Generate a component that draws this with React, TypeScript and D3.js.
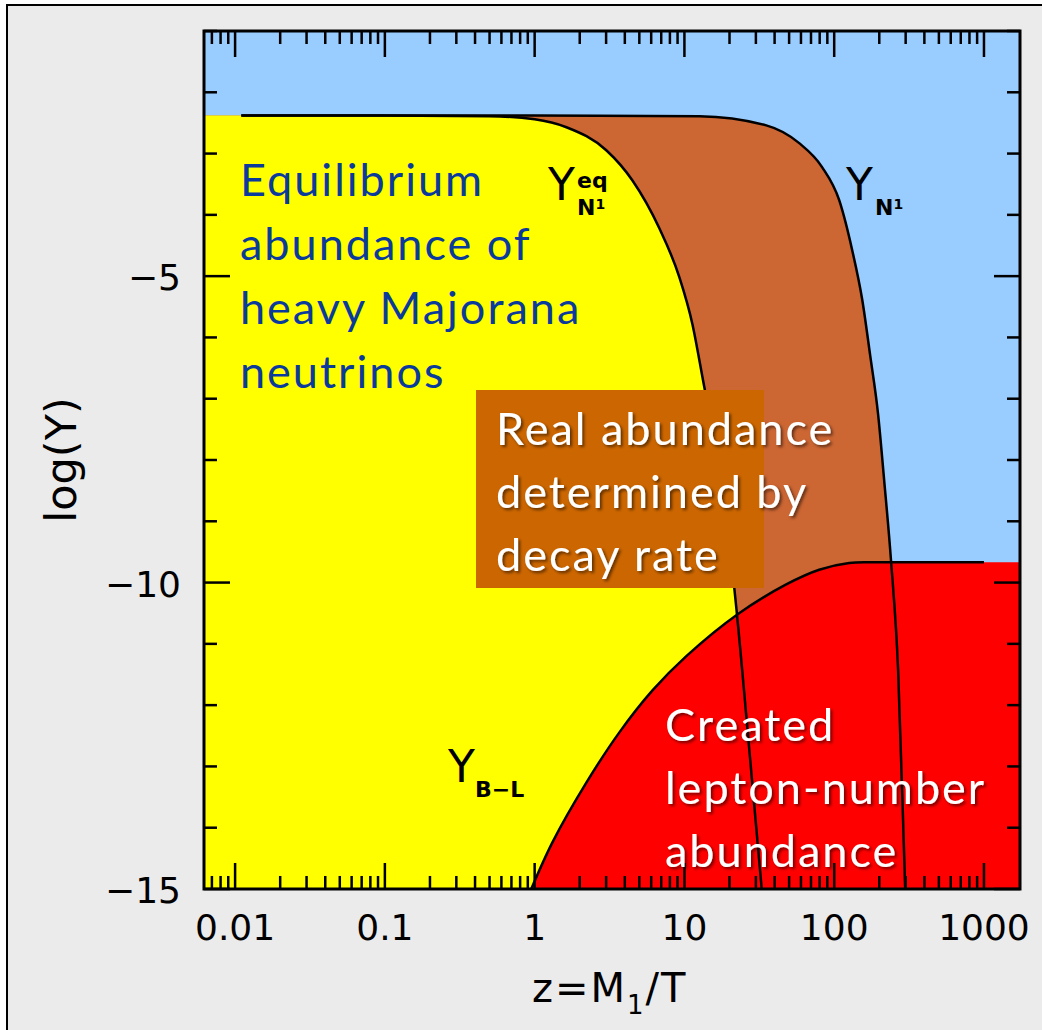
import React from "react";
import * as d3 from "d3";

// ---------- data ----------
// z = M1/T values and log10(Y) values
const yeqZ = [0.011, 0.1, 0.5, 1.0, 1.63, 3.02, 4.5, 6.8, 9.26, 11.3, 13.2, 17.1, 21.5, 27.1, 32.6, 34];
const yeqLog = [-2.38, -2.38, -2.39, -2.44, -2.57, -2.95, -3.44, -4.22, -5.02, -5.78, -6.65, -8.2, -10.08, -12.72, -14.92, -15.4];

const yn1Z = [0.011, 1, 12.6, 35.2, 58.4, 83, 108, 132, 154, 173.8, 196.5, 215.4, 239.9, 267.1, 297.4, 312];
const yn1Log = [-2.38, -2.38, -2.39, -2.54, -2.83, -3.22, -3.76, -4.58, -5.39, -6.29, -7.26, -8.32, -9.66, -11.42, -14.95, -16.5];

const yblZ = [0.93, 1.32, 2.22, 3.69, 6.12, 10.3, 22.56, 47.86, 79.4, 126, 200, 1000];
const yblLog = [-15.05, -14.23, -13.26, -12.44, -11.76, -11.2, -10.52, -10.03, -9.79, -9.68, -9.67, -9.67];

const xTickValues = [0.01, 0.1, 1, 10, 100, 1000];
const xTickLabels = ["0.01", "0.1", "1", "10", "100", "1000"];
const yTickValues = [-5, -10, -15];
const yTickLabels = ["\u22125", "\u221210", "\u221215"];

const xDomain = [0.0062, 1740];
const yDomain = [-15, -1];

const blueLines = ["Equilibrium", "abundance of", "heavy Majorana", "neutrinos"];
const boxLines = ["Real abundance", "determined by", "decay rate"];
const redLines = ["Created", "lepton-number", "abundance"];

// ---------- layout ----------
const W = 1042;
const H = 1030;
const L = 204, R = 1020, T = 31, B = 889;

const COLORS = {
  bg: "#ebebeb",
  blue: "#99ccff",
  yellow: "#ffff00",
  orange: "#cc6633",
  red: "#ff0000",
  box: "#cc6600",
  textBlue: "#0a3a9c",
};

export default function App() {
  const x = d3.scaleLog().domain(xDomain).range([L, R]);
  const y = d3.scaleLinear().domain(yDomain).range([B, T]);

  const toPts = (zs: number[], ls: number[]) => zs.map((z, i) => [z, ls[i]] as [number, number]);
  const yeq = toPts(yeqZ, yeqLog);
  const yn1 = toPts(yn1Z, yn1Log);
  const ybl = toPts(yblZ, yblLog);

  const line = d3
    .line<[number, number]>()
    .x((d) => x(d[0]))
    .y((d) => y(d[1]))
    .curve(d3.curveMonotoneX);
  const area = d3
    .area<[number, number]>()
    .x((d) => x(d[0]))
    .y0(B + 40)
    .y1((d) => y(d[1]))
    .curve(d3.curveMonotoneX);
  const smoothLine = line.curve(d3.curveCatmullRom.alpha(0.5));
  const smoothArea = area.curve(d3.curveCatmullRom.alpha(0.5));
  line.curve(d3.curveMonotoneX);
  area.curve(d3.curveMonotoneX);

  const yeqFill: [number, number][] = [[xDomain[0], yeqLog[0]], ...yeq];
  const yn1Fill: [number, number][] = [[xDomain[0], yn1Log[0]], ...yn1];
  const yblFill: [number, number][] = [...ybl, [xDomain[1] * 1.05, yblLog[yblLog.length - 1]]];

  const yeqFillPath = area(yeqFill) || "";
  const yn1FillPath = area(yn1Fill) || "";
  const yeqPath = line(yeq) || "";
  const yn1Path = line(yn1) || "";

  const blArea = d3
    .area<[number, number]>()
    .x((d) => x(d[0]))
    .y0(B + 40)
    .y1((d) => y(d[1]))
    .curve(d3.curveCatmullRom.alpha(0.5));
  const blLine = d3
    .line<[number, number]>()
    .x((d) => x(d[0]))
    .y((d) => y(d[1]))
    .curve(d3.curveCatmullRom.alpha(0.5));
  void smoothLine;
  void smoothArea;

  // minor ticks
  const xMinor: number[] = [];
  for (let e = -3; e <= 3; e++) {
    for (let m = 2; m <= 9; m++) {
      const v = m * Math.pow(10, e);
      if (v > xDomain[0] && v < xDomain[1]) xMinor.push(v);
    }
  }
  const yMinor: number[] = d3.range(-14, 0).filter((v) => v % 5 !== 0);

  const tickW = 2.5;
  const major = 26;
  const minor = 13;

  const bodyFont = "Lato, 'Open Sans', sans-serif";
  const axisFont = "'DejaVu Sans', sans-serif";

  return (
    <svg
      width={W}
      height={H}
      style={{ position: "absolute", left: 0, top: 0, display: "block" }}
    >
      <defs>
        <clipPath id="plotclip">
          <rect x={L} y={T} width={R - L} height={B - T} />
        </clipPath>
        <filter id="shadow" x="-10%" y="-20%" width="130%" height="160%">
          <feDropShadow dx="2" dy="2" stdDeviation="1.5" floodColor="#000" floodOpacity="0.55" />
        </filter>
      </defs>
      <rect x={0} y={0} width={W} height={H} fill="#ffffff" />
      <rect x={7} y={5} width={W + 20} height={H + 20} fill={COLORS.bg} stroke="#000" strokeWidth={2} />

      <g clipPath="url(#plotclip)">
        <rect x={L} y={T} width={R - L} height={B - T} fill={COLORS.blue} />
        <path d={yn1FillPath} fill={COLORS.orange} />
        <path d={yeqFillPath} fill={COLORS.yellow} />
        <path d={blArea(yblFill) || ""} fill={COLORS.red} />
        <path d={yeqPath} fill="none" stroke="#000" strokeWidth={2.5} />
        <path d={yn1Path} fill="none" stroke="#000" strokeWidth={2.5} />
        <path d={blLine(ybl) || ""} fill="none" stroke="#000" strokeWidth={2.5} />
      </g>

      {/* ticks */}
      <g stroke="#000" strokeWidth={tickW}>
        {xTickValues.map((v) => (
          <g key={"xM" + v}>
            <line x1={x(v)} x2={x(v)} y1={B} y2={B - major} />
            <line x1={x(v)} x2={x(v)} y1={T} y2={T + major} />
          </g>
        ))}
        {xMinor.map((v) => (
          <g key={"xm" + v}>
            <line x1={x(v)} x2={x(v)} y1={B} y2={B - minor} />
            <line x1={x(v)} x2={x(v)} y1={T} y2={T + minor} />
          </g>
        ))}
        {yTickValues.map((v) => (
          <g key={"yM" + v}>
            <line x1={L} x2={L + major} y1={y(v)} y2={y(v)} />
            <line x1={R} x2={R - major} y1={y(v)} y2={y(v)} />
          </g>
        ))}
        {yMinor.map((v) => (
          <g key={"ym" + v}>
            <line x1={L} x2={L + minor} y1={y(v)} y2={y(v)} />
            <line x1={R} x2={R - minor} y1={y(v)} y2={y(v)} />
          </g>
        ))}
      </g>
      <rect x={L} y={T} width={R - L} height={B - T} fill="none" stroke="#000" strokeWidth={3} />

      {/* tick labels */}
      <g fontFamily={axisFont} fontSize={36} fill="#000">
        {xTickValues.map((v, i) => (
          <text key={"xl" + v} x={x(v)} y={940} textAnchor="middle">
            {xTickLabels[i]}
          </text>
        ))}
        {yTickValues.map((v, i) => (
          <text key={"yl" + v} x={181} y={y(v) + 14} textAnchor="end">
            {yTickLabels[i]}
          </text>
        ))}
      </g>

      {/* axis titles */}
      <text
        x={0}
        y={0}
        transform="translate(76,460) rotate(-90)"
        fontFamily={axisFont}
        fontSize={43}
        textAnchor="middle"
      >
        log(Y)
      </text>
      <text x={532} y={1002} fontFamily={axisFont} fontSize={40} letterSpacing={2}>
        z=M
        <tspan fontSize={26} dy={12}>1</tspan>
        <tspan dy={-12}>/T</tspan>
      </text>

      {/* curve labels */}
      <g fontFamily={axisFont} fill="#000">
        <text x={548} y={200} fontSize={44}>Y</text>
        <text x={577} y={188} fontSize={22} fontWeight="bold">eq</text>
        <text x={577} y={215} fontSize={22} fontWeight="bold">
          N<tspan fontSize={14} dy={-6}>1</tspan>
        </text>

        <text x={846} y={200} fontSize={44}>Y</text>
        <text x={875} y={215} fontSize={22} fontWeight="bold">
          N<tspan fontSize={14} dy={-6}>1</tspan>
        </text>

        <text x={448} y={782} fontSize={44}>Y</text>
        <text x={475} y={797} fontSize={22} fontWeight="bold">{"B\u2212L"}</text>
      </g>

      {/* annotation texts */}
      <g fontFamily={bodyFont} fontSize={45} letterSpacing={2} fill={COLORS.textBlue}>
        {blueLines.map((s, i) => (
          <text key={s} x={240} y={196 + i * 64}>
            {s}
          </text>
        ))}
      </g>

      <rect x={476} y={390} width={288} height={198} fill={COLORS.box} />
      <g fontFamily={bodyFont} fontSize={45} letterSpacing={2} fill="#ffffff" filter="url(#shadow)">
        {boxLines.map((s, i) => (
          <text key={s} x={496} y={445 + i * 63}>
            {s}
          </text>
        ))}
      </g>
      <g fontFamily={bodyFont} fontSize={45} letterSpacing={2} fill="#ffffff" filter="url(#shadow)">
        {redLines.map((s, i) => (
          <text key={s} x={665} y={741 + i * 63}>
            {s}
          </text>
        ))}
      </g>
    </svg>
  );
}
